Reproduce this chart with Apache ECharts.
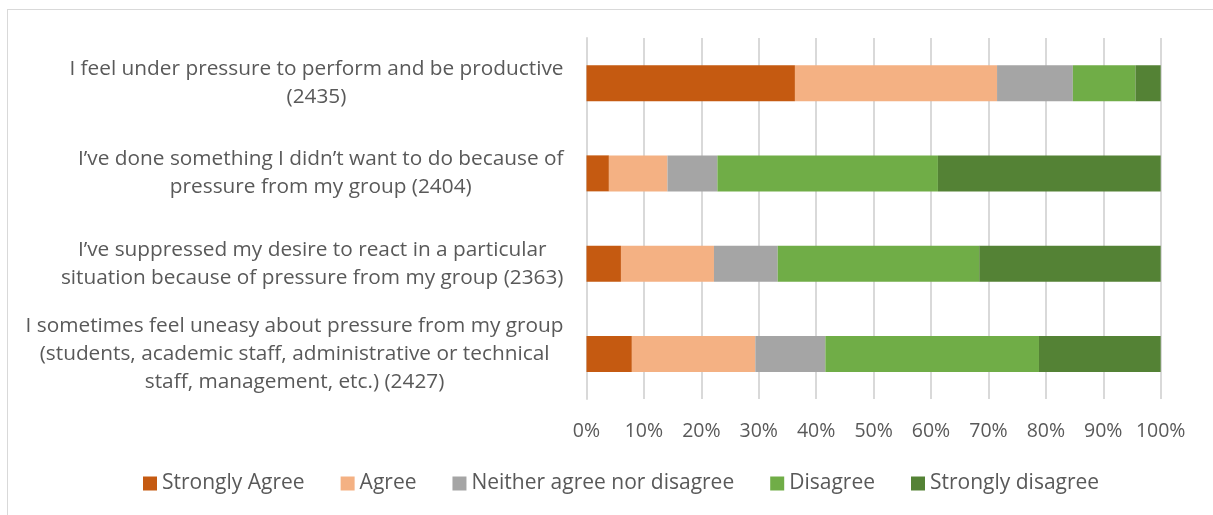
<!DOCTYPE html>
<html>
<head>
<meta charset="utf-8">
<script src="https://cdn.jsdelivr.net/npm/echarts@6/dist/echarts.min.js"></script>
<style>
  html, body { margin: 0; padding: 0; background: #ffffff; overflow: hidden; }
  #frame { position: absolute; left: 7px; top: 9px; width: 1300px; height: 600px; border: 1px solid #D9D9D9; box-sizing: border-box; }
  #chart { position: absolute; left: 0; top: 0; width: 1213px; height: 515px; }
</style>
</head>
<body>
<div id="frame"></div>
<div id="chart"></div>
<script>
// Survey statements (top to bottom) with number of respondents
const statements = [
  "I feel under pressure to perform and be productive\n(2435)",
  "I\u2019ve done something I didn\u2019t want to do because of\npressure from my group (2404)",
  "I\u2019ve suppressed my desire to react in a particular\nsituation because of pressure from my group (2363)",
  "I sometimes feel uneasy about pressure from my group\n(students, academic staff, administrative or technical\nstaff, management, etc.) (2427)"
];

const responseLabels = ["Strongly Agree", "Agree", "Neither agree nor disagree", "Disagree", "Strongly disagree"];
const responseColors = ["#C55A11", "#F4B183", "#A5A5A5", "#70AD47", "#548235"];

// Share of answers (%) per statement, same order as statements
const stronglyAgree = [36.3, 3.9, 6.0, 7.9];
const agree         = [35.2, 10.2, 16.2, 21.5];
const neither       = [13.2, 8.7, 11.1, 12.2];
const disagree      = [10.9, 38.4, 35.1, 37.2];
const stronglyDis   = [4.4, 38.8, 31.6, 21.2];

const tickValues = [0, 10, 20, 30, 40, 50, 60, 70, 80, 90, 100];

const seriesValues = [stronglyAgree, agree, neither, disagree, stronglyDis];

const chart = echarts.init(document.getElementById('chart'), null, { renderer: 'canvas' });

const FONT = '"Open Sans", sans-serif';
const TEXT = '#595959';
const FS_AXIS = 19.5;
const FS_CAT = 20.8;
const FS_LEGEND = 21;

chart.setOption({
  animation: false,
  textStyle: { fontFamily: FONT },
  grid: { left: 586.5, right: 52.3, top: 38, bottom: 116, containLabel: false },
  legend: {
    bottom: 16,
    left: 138,
    itemWidth: 14,
    itemHeight: 14,
    itemGap: 36,
    icon: 'rect',
    textStyle: { color: TEXT, fontSize: FS_LEGEND, fontFamily: FONT },
    data: responseLabels
  },
  xAxis: {
    type: 'value',
    min: 0,
    max: 100,
    interval: 10,
    axisLine: { show: false },
    axisTick: { show: false },
    splitLine: { lineStyle: { color: '#D9D9D9', width: 2 } },
    axisLabel: {
      color: TEXT,
      fontSize: FS_AXIS,
      margin: 22,
      formatter: v => tickValues.includes(v) ? v + '%' : ''
    }
  },
  yAxis: {
    type: 'category',
    inverse: true,
    data: statements,
    axisLine: { show: true, lineStyle: { color: '#D9D9D9', width: 2 } },
    axisTick: { show: false },
    axisLabel: {
      align: 'right',
      margin: 23,
      color: TEXT,
      fontSize: FS_CAT,
      lineHeight: 28,
      formatter: v => v.split('\n').map(s => '{c|' + s + '}').join('\n'),
      rich: {
        c: { align: 'center', color: TEXT, fontSize: FS_CAT, lineHeight: 28, fontFamily: FONT }
      }
    }
  },
  series: responseLabels.map((name, i) => ({
    name,
    type: 'bar',
    stack: 'total',
    barWidth: 36,
    itemStyle: { color: responseColors[i] },
    emphasis: { disabled: true },
    data: seriesValues[i]
  }))
});
</script>
</body>
</html>
